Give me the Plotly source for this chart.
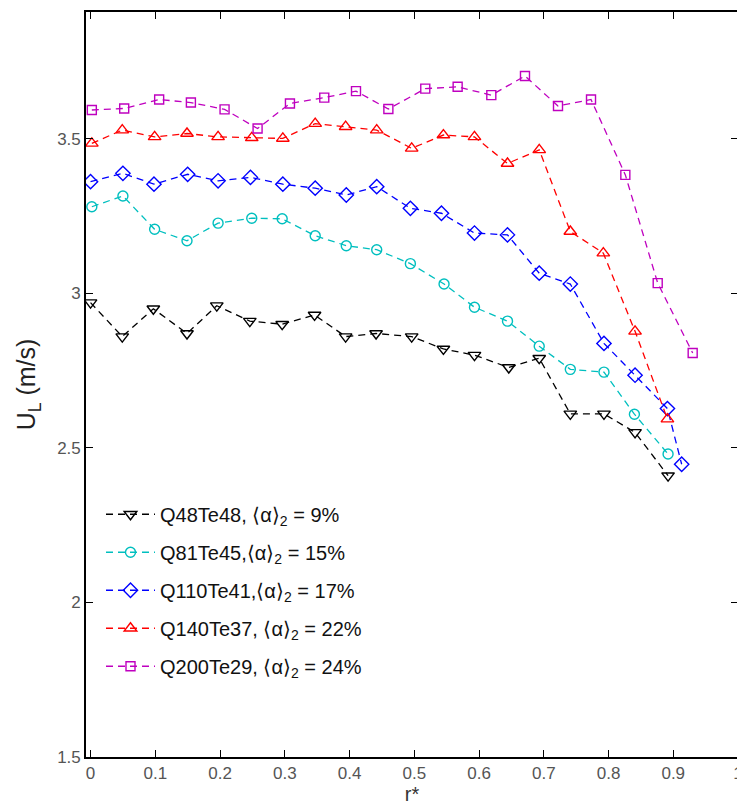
import plotly.graph_objects as go

# ---- data ----
black_x = [0.0, 0.049, 0.097, 0.149, 0.195, 0.246, 0.296, 0.346, 0.394, 0.441, 0.496, 0.545, 0.593, 0.646, 0.693, 0.741, 0.793, 0.841, 0.892]
black_y = [2.97, 2.86, 2.95, 2.87, 2.96, 2.91, 2.90, 2.93, 2.86, 2.87, 2.86, 2.82, 2.80, 2.76, 2.79, 2.61, 2.61, 2.55, 2.41]

cyan_x = [0.002, 0.05, 0.099, 0.149, 0.197, 0.249, 0.296, 0.347, 0.395, 0.442, 0.494, 0.546, 0.593, 0.644, 0.693, 0.741, 0.793, 0.840, 0.892]
cyan_y = [3.28, 3.315, 3.207, 3.170, 3.227, 3.243, 3.241, 3.186, 3.154, 3.141, 3.096, 3.030, 2.955, 2.910, 2.829, 2.754, 2.745, 2.609, 2.48]

blue_x = [0.0, 0.05, 0.098, 0.150, 0.197, 0.247, 0.297, 0.347, 0.395, 0.442, 0.494, 0.542, 0.593, 0.644, 0.693, 0.741, 0.793, 0.841, 0.891, 0.913]
blue_y = [3.361, 3.388, 3.353, 3.385, 3.364, 3.375, 3.353, 3.340, 3.318, 3.345, 3.275, 3.259, 3.195, 3.189, 3.065, 3.030, 2.838, 2.735, 2.627, 2.447]

red_x = [0.002, 0.049, 0.099, 0.149, 0.197, 0.249, 0.297, 0.347, 0.394, 0.442, 0.496, 0.545, 0.593, 0.644, 0.693, 0.741, 0.792, 0.841, 0.891]
red_y = [3.485, 3.528, 3.506, 3.517, 3.506, 3.503, 3.501, 3.549, 3.539, 3.528, 3.469, 3.512, 3.506, 3.420, 3.464, 3.200, 3.130, 2.877, 2.593]

magenta_x = [0.002, 0.052, 0.106, 0.155, 0.207, 0.258, 0.308, 0.361, 0.410, 0.460, 0.517, 0.567, 0.619, 0.671, 0.722, 0.773, 0.826, 0.876, 0.930]
magenta_y = [3.593, 3.598, 3.627, 3.617, 3.595, 3.533, 3.614, 3.633, 3.654, 3.596, 3.662, 3.668, 3.641, 3.703, 3.606, 3.627, 3.383, 3.033, 2.807]

series_names = [
    "Q48Te48, \u27e8\u03b1\u27e9<sub>2</sub> = 9%",
    "Q81Te45,\u27e8\u03b1\u27e9<sub>2</sub> = 15%",
    "Q110Te41,\u27e8\u03b1\u27e9<sub>2</sub> = 17%",
    "Q140Te37, \u27e8\u03b1\u27e9<sub>2</sub> = 22%",
    "Q200Te29, \u27e8\u03b1\u27e9<sub>2</sub> = 24%",
]
x_ticks = [0, 0.1, 0.2, 0.3, 0.4, 0.5, 0.6, 0.7, 0.8, 0.9, 1]
x_tick_labels = ["0", "0.1", "0.2", "0.3", "0.4", "0.5", "0.6", "0.7", "0.8", "0.9", "1"]
y_ticks = [1.5, 2, 2.5, 3, 3.5]
y_tick_labels = ["1.5", "2", "2.5", "3", "3.5"]

xs = [black_x, cyan_x, blue_x, red_x, magenta_x]
ys = [black_y, cyan_y, blue_y, red_y, magenta_y]
colors = ["#000000", "#00BFBF", "#0000FF", "#FF0000", "#BF00BF"]
symbols = ["triangle-down-open", "circle-open", "diamond-open", "triangle-up-open", "square-open"]
sizes = [11, 10, 11, 11, 9]

FONT = "Liberation Sans, Arial, sans-serif"

fig = go.Figure()
for i in range(5):
    fig.add_trace(go.Scatter(
        x=xs[i], y=ys[i], mode="lines+markers", name=series_names[i],
        legendgroup="g%d" % i,
        line=dict(color=colors[i], width=1.3, dash="7px,5px"),
        marker=dict(symbol=symbols[i], size=sizes[i], color=colors[i],
                    line=dict(color=colors[i], width=1.4)),
    ))

axis_common = dict(
    showline=True, linecolor="black", linewidth=1.6, mirror="ticks",
    ticks="inside", ticklen=7, tickcolor="black", tickwidth=1.4,
    showgrid=False, zeroline=False, ticklabeloverflow="allow",
    tickfont=dict(family=FONT, size=17, color="#555555"),
)

# the page body adds an 8 px offset, so the figure is 8 px smaller than the window
fig.update_layout(
    width=737, height=798,
    margin=dict(l=78, r=2, t=2, b=49),
    paper_bgcolor="white", plot_bgcolor="white",
    font=dict(family=FONT, color="black"),
    xaxis=dict(range=[-0.007, 1.0], tickvals=x_ticks, ticktext=x_tick_labels,
               title=dict(text="r*", font=dict(family=FONT, size=20, color="#333333"), standoff=0),
               **axis_common),
    yaxis=dict(range=[1.5, 3.91], tickvals=y_ticks, ticktext=y_tick_labels,
               title=dict(text="U<sub>L</sub> (m/s)", font=dict(family=FONT, size=25, color="#222222"), standoff=14),
               **axis_common),
    legend=dict(x=0.023, y=0.352, xanchor="left", yanchor="top",
                bgcolor="rgba(255,255,255,0)", borderwidth=0,
                font=dict(family=FONT, size=20, color="#111111"),
                itemwidth=49,
                traceorder="grouped", tracegroupgap=9),
    showlegend=True,
)

fig.write_html("out.html")
